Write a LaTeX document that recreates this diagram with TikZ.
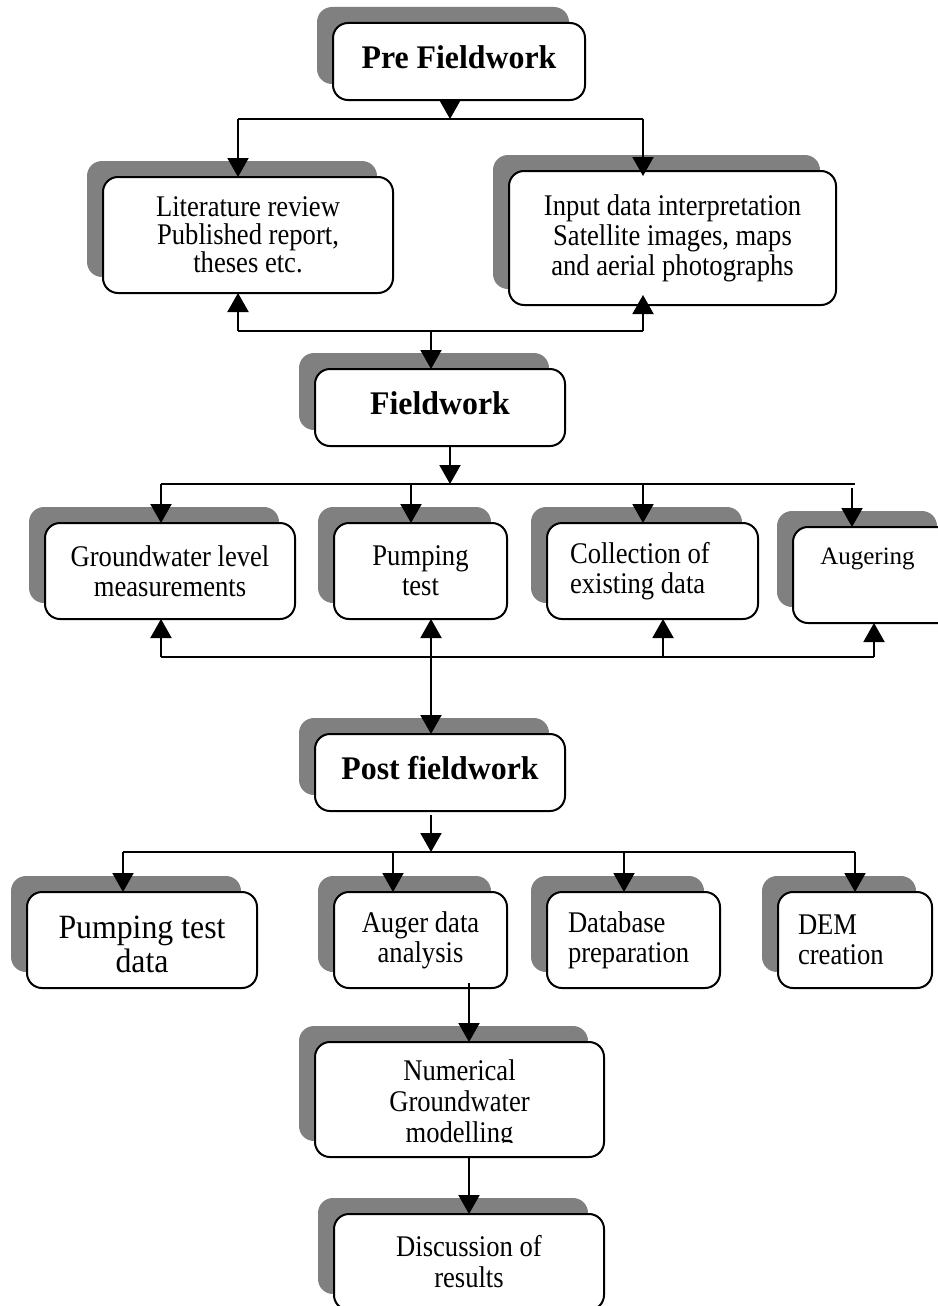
\documentclass[tikz,border=0pt]{standalone}
\usepackage{fontspec}
\setmainfont{Liberation Serif}
\newfontfamily\tallserif[FakeStretch=0.887]{Liberation Serif}
\newfontfamily\bigserif[FakeStretch=0.935]{Liberation Serif}
\newfontfamily\headserif[FakeStretch=0.965]{Liberation Serif}
\usetikzlibrary{arrows.meta,shadows}
\definecolor{shadowgray}{RGB}{128,128,128}
\tikzset{
  box/.style={draw, line width=2pt, rounded corners=15pt, fill=white,
    inner sep=0pt, outer sep=0pt, align=center,
    font=\tallserif\fontsize{30}{30}\selectfont,
    general shadow={fill=shadowgray, shadow xshift=-16pt, shadow yshift=16pt}},
  headbox/.style={box, font=\headserif\fontsize{33}{38}\selectfont\bfseries, text depth=9pt},
  bigbox/.style={box, font=\bigserif\fontsize{34}{34}\selectfont},
  conn/.style={line width=2pt},
  arr/.style={conn, -{Triangle[length=19pt,width=21pt]}},
  darr/.style={conn, {Triangle[length=19pt,width=21pt]}-{Triangle[length=19pt,width=21pt]}},
  txt/.style={inner sep=0pt, outer sep=0pt, align=center, font=\tallserif\fontsize{30}{31}\selectfont},
}
\begin{document}
\begin{tikzpicture}[x=1pt,y=-1pt]
\useasboundingbox (0,0) rectangle (937,1306);

% ---------- boxes ----------
\node[headbox, minimum width=252pt, minimum height=77pt] (pre) at (459,61.5) {Pre Fieldwork};
\node[box, minimum width=290pt, minimum height=116pt, font=\tallserif\fontsize{30}{28}\selectfont] (lit) at (248,235)
  {Literature review\\Published report,\\theses etc.};
\node[box, minimum width=327pt, minimum height=134pt] (inp) at (672.5,238)
  {Input data interpretation\\Satellite images, maps\\and aerial photographs};
\node[headbox, minimum width=250pt, minimum height=77pt] (field) at (440,407.5) {Fieldwork};

\node[box, minimum width=250pt, minimum height=96pt] (gw) at (170,571)
  {Groundwater level\\measurements};
\node[box, minimum width=173pt, minimum height=96pt] (pump) at (420.5,571)
  {Pumping\\test};
\node[box, minimum width=211pt, minimum height=96pt, text width=165pt, align=flush left] (coll) at (652.5,571)
  {Collection of\\existing data};
\node[box, minimum width=160pt, minimum height=96pt] (aug) at (873,575) {};
\node[inner sep=0pt, outer sep=0pt, font=\rmfamily\fontsize{25}{30}\selectfont] (augt) at (867.5,559) {Augering};

\node[headbox, minimum width=250pt, minimum height=77pt] (post) at (440,772.5) {Post fieldwork};

\node[box, minimum width=230pt, minimum height=96pt] (ptd) at (142,940) {};
\node[inner sep=0pt, outer sep=0pt, align=center, font=\bigserif\fontsize{34}{34}\selectfont] (ptdt) at (142,944.5)
  {Pumping test\\data};
\node[box, minimum width=173pt, minimum height=96pt] (ada) at (420.5,940)
  {Auger data\\analysis};
\node[box, minimum width=173pt, minimum height=96pt, text width=131pt, align=flush left] (dbp) at (633.5,940)
  {Database\\preparation};
\node[box, minimum width=154pt, minimum height=96pt, text width=114pt, align=flush left] (dem) at (855,940)
  {DEM\\creation};

\node[box, minimum width=289pt, minimum height=115pt] (num) at (459.5,1099.5) {};
\begin{scope}
  \clip (316,1043) rectangle (603,1142);
  \node[txt] (numt) at (459.5,1104) {Numerical\\Groundwater\\modelling};
\end{scope}

\node[box, minimum width=270pt, minimum height=96pt, font=\tallserif\fontsize{30}{31}\selectfont] (disc) at (469,1262)
  {Discussion of\\results};

% ---------- connectors ----------
% Pre fieldwork -> literature / input
\coordinate (s1) at (450,119);
\coordinate (s1l) at (238,119);
\coordinate (s1r) at (643,119);
\coordinate (inpin) at (643,176);
\draw[arr] (pre.south -| s1) -- (s1);
\draw[conn] (s1l) -- (s1r);
\draw[arr] (s1l) -- (lit.north -| s1l);
\draw[arr] (s1r) -- (inpin);

% literature / input <- -> fieldwork
\coordinate (s2l) at (238,331);
\coordinate (s2r) at (643,331);
\coordinate (s2m) at (431,331);
\coordinate (inpout) at (643,295);
\draw[conn] (s2l) -- (s2r);
\draw[arr] (s2l) -- (lit.south -| s2l);
\draw[arr] (s2r) -- (inpout);
\draw[arr] (s2m) -- (field.north -| s2m);

% fieldwork -> row of four
\coordinate (s3) at (450,484);
\coordinate (s3l) at (161,484);
\coordinate (s3p) at (411,484);
\coordinate (s3c) at (643,484);
\coordinate (s3r) at (855,484);
\coordinate (s3a) at (852,488);
\draw[arr] (field.south -| s3) -- (s3);
\draw[conn] (s3l) -- (s3r);
\draw[arr] (s3l) -- (gw.north -| s3l);
\draw[arr] (s3p) -- (pump.north -| s3p);
\draw[arr] (s3c) -- (coll.north -| s3c);
\draw[arr] (s3a) -- (aug.north -| s3a);

% row of four <- line -> post fieldwork
\coordinate (s4l) at (161,657);
\coordinate (s4p) at (431,657);
\coordinate (s4c) at (663,657);
\coordinate (s4r) at (874,657);
\draw[conn] (s4l) -- (s4r);
\draw[arr] (s4l) -- (gw.south -| s4l);
\draw[darr] (pump.south -| s4p) -- (post.north -| s4p);
\draw[arr] (s4c) -- (coll.south -| s4c);
\draw[arr] (s4r) -- (aug.south -| s4r);

% post fieldwork -> bottom row
\coordinate (s5t) at (431,815);
\coordinate (s5) at (431,852);
\coordinate (s5l) at (123,852);
\coordinate (s5a) at (393,852);
\coordinate (s5d) at (624,852);
\coordinate (s5r) at (855,852);
\draw[arr] (s5t) -- (s5);
\draw[conn] (s5l) -- (s5r);
\draw[arr] (s5l) -- (ptd.north -| s5l);
\draw[arr] (s5a) -- (ada.north -| s5a);
\draw[arr] (s5d) -- (dbp.north -| s5d);
\draw[arr] (s5r) -- (dem.north -| s5r);

% auger data -> numerical -> discussion
\coordinate (s6) at (469,983);
\draw[arr] (s6) -- (num.north -| s6);
\draw[arr] (num.south -| s6) -- (disc.north -| s6);
\end{tikzpicture}
\end{document}
